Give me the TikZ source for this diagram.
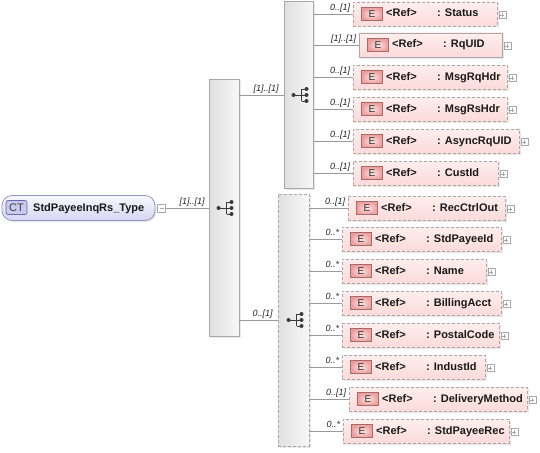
\documentclass[tikz,border=0pt]{standalone}
\usepackage{fontspec}
\setmainfont{Liberation Sans}
\usetikzlibrary{shadows}
\definecolor{linegray}{HTML}{9A9A9A}
\definecolor{boxgray}{HTML}{A8A8A8}
\definecolor{icongray}{HTML}{3A3A3A}
\definecolor{seqleft}{HTML}{E0E0E0}
\definecolor{seqright}{HTML}{F7F7F7}
\definecolor{pinktop}{HTML}{FFEEEE}
\definecolor{pinkbot}{HTML}{FCDADA}
\definecolor{eborder}{HTML}{A86A6A}
\definecolor{einner}{HTML}{FDE6E6}
\definecolor{eouter}{HTML}{EC9E9E}
\definecolor{cttop}{HTML}{F8F8FF}
\definecolor{ctbot}{HTML}{D6D6F2}
\definecolor{ctborder}{HTML}{9898C0}
\definecolor{ctmarkfill}{HTML}{CACAF0}
\definecolor{ctmarkborder}{HTML}{6A6AA8}
\begin{document}
\begin{tikzpicture}[x=1pt,y=-1pt,
		conn/.style={draw=linegray,line width=0.8pt},
		mult/.style={font=\fontsize{9}{11}\selectfont\itshape,inner sep=0.5pt,text height=7pt,text depth=2pt,text=black!85},
		softshadow/.style={drop shadow={shadow xshift=1.5pt,shadow yshift=-1.5pt,opacity=0.18}},
		seqbox/.style={draw=boxgray,line width=0.8pt,left color=seqleft,right color=seqright,softshadow,inner sep=0},
		optbox/.style={dash pattern=on 3pt off 2pt},
		reqbox/.style={solid},
		elembox/.style={draw=boxgray,line width=0.8pt,top color=pinktop,bottom color=pinkbot,softshadow,minimum height=24pt,inner sep=0},
		ebox/.style={draw=eborder,line width=0.7pt,inner color=einner,outer color=eouter,minimum width=21pt,minimum height=13pt,inner sep=0,font=\fontsize{10}{12}\selectfont,text=black!80},
		reftext/.style={font=\fontsize{11}{13}\selectfont\bfseries,inner sep=0,text=black!90},
		plusbox/.style={draw=boxgray,fill=white,minimum size=7pt,inner sep=0,line width=0.6pt},
		seqicon/.pic={
			\draw[icongray,line width=0.9pt] (-6.5,0) -- (1.5,0) (1.5,-6) -- (1.5,6)
				(1.5,-6) -- (6.5,-6) (1.5,0) -- (6.5,0) (1.5,6) -- (6.5,6);
			\fill[icongray] (-6.5,0) circle (2pt);
			\foreach \dy in {-6,0,6} \fill[icongray] (6.5,\dy) circle (2pt);
		}]
	\useasboundingbox (0,0) rectangle (540,452);

	% complex type
	\node[draw=ctborder,line width=0.8pt,rounded corners=10pt,top color=cttop,bottom color=ctbot,softshadow,minimum width=153pt,minimum height=25pt,inner sep=0] (ctype) at (78.5,208) {};
	\node[draw=ctmarkborder,line width=0.7pt,fill=ctmarkfill,rounded corners=2pt,minimum width=21pt,minimum height=14pt,inner sep=0,font=\fontsize{11}{13}\selectfont,text=black!75] (ctmark) at (16.5,207.5) {CT};
	\node[reftext,anchor=base west] (ctname) at (33,211) {StdPayeeInqRs\_Type};
	\node[plusbox,minimum size=8pt] (ctminus) at (161.5,208) {};
	\draw[boxgray] ([xshift=-2pt]ctminus.center) -- ([xshift=2pt]ctminus.center);

	% sequences
	\node[seqbox,minimum width=30pt,minimum height=257pt] (outseq) at (224,208) {};
	\node[seqbox,minimum width=29pt,minimum height=187pt] (upseq) at (298.5,95) {};
	\node[seqbox,optbox,minimum width=31pt,minimum height=252pt] (lowseq) at (293.5,320) {};
	\pic at (225,208) {seqicon};
	\pic at (300,95) {seqicon};
	\pic at (295,320) {seqicon};

	\draw[conn] (ctminus.east) -- (ctminus.east -| outseq.west) node[mult,pos=1,anchor=south east,xshift=-3pt,yshift=1pt] {[1]..[1]};
	\draw[conn] (outseq.east |- upseq.west) -- (upseq.west) node[mult,pos=1,anchor=south east,xshift=-4pt,yshift=1pt] {[1]..[1]};
	\draw[conn] (outseq.east |- lowseq.west) -- (lowseq.west) node[mult,pos=1,anchor=south east,xshift=-4pt,yshift=1pt] {0..[1]};

	% elements
	\foreach \n/\y/\lx/\rx/\m/\txt/\s/\sq in {
			1/14/353/497/0..[1]/Status/optbox/upseq,
			2/45/359/502/[1]..[1]/RqUID/reqbox/upseq,
			3/77/353/507/0..[1]/MsgRqHdr/optbox/upseq,
			4/109/353/507/0..[1]/MsgRsHdr/optbox/upseq,
			5/141/353/519/0..[1]/AsyncRqUID/optbox/upseq,
			6/173/353/498/0..[1]/CustId/optbox/upseq,
			7/208/348/505/0..[1]/RecCtrlOut/optbox/lowseq,
			8/239/342/501/0..*/StdPayeeId/optbox/lowseq,
			9/271/342/486/0..*/Name/optbox/lowseq,
			10/303/342/501/0..*/BillingAcct/optbox/lowseq,
			11/335/342/499/0..*/PostalCode/optbox/lowseq,
			12/367/342/485/0..*/IndustId/optbox/lowseq,
			13/399/349/527/0..[1]/DeliveryMethod/optbox/lowseq,
			14/431/343/509/0..*/StdPayeeRec/optbox/lowseq}{
		\node[elembox,\s,minimum width={\rx-\lx},anchor=west] (el\n) at (\lx,\y) {};
		\node[ebox,anchor=west] (e\n) at ([xshift=8pt]el\n.west) {E};
		\node[reftext,anchor=base west] (r\n) at ([xshift=33pt,yshift=-3pt]el\n.west) {<Ref>};
		\node[reftext,anchor=base west] (t\n) at ([xshift=84pt,yshift=-3pt]el\n.west) {: \txt};
		\node[plusbox] (p\n) at ([xshift=4.5pt,yshift=-1pt]el\n.east) {};
		\draw[boxgray] ([xshift=-2pt]p\n.center) -- ([xshift=2pt]p\n.center)
			([yshift=-2pt]p\n.center) -- ([yshift=2pt]p\n.center);
		\draw[conn] (\sq.east |- el\n.west) -- (el\n.west) node[mult,pos=1,anchor=south east,xshift=-2pt,yshift=1pt] {\m};
	}
\end{tikzpicture}
\end{document}
